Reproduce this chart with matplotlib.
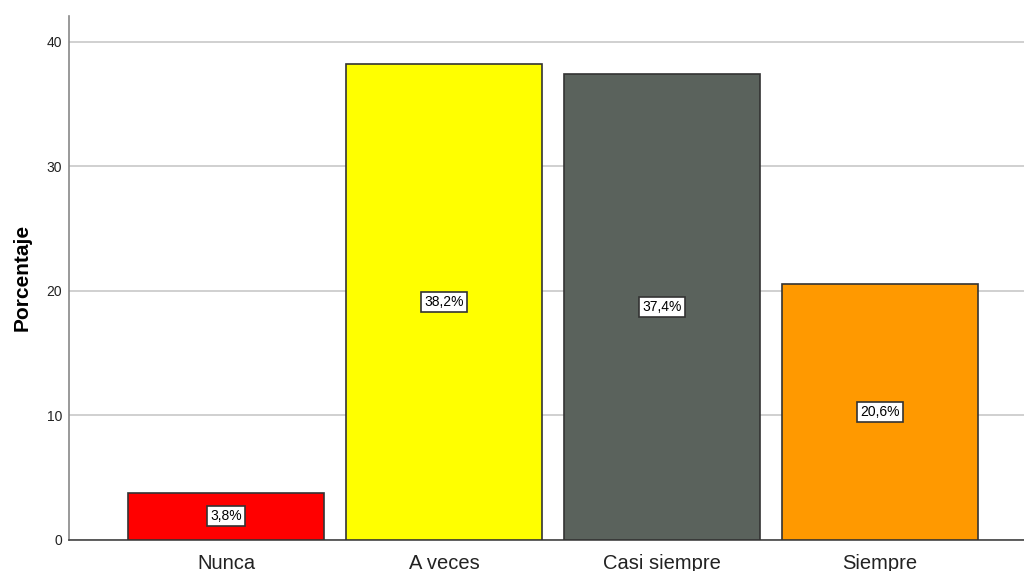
import matplotlib
matplotlib.use("Agg")
import matplotlib.pyplot as plt

# data
categorias = ["Nunca", "A veces", "Casi siempre", "Siempre"]
porcentajes = [3.8, 38.2, 37.4, 20.6]
etiquetas = ["3,8%", "38,2%", "37,4%", "20,6%"]
colores = ["#FF0000", "#FFFF00", "#5A625C", "#FF9900"]
yticks = [0, 10, 20, 30, 40]

plt.rcParams['font.family'] = ['Liberation Sans', 'DejaVu Sans']

fig = plt.figure(figsize=(10.24, 5.71), dpi=100)
ax = fig.add_axes([0.0674, 0.0543, 0.9326, 0.918])

x = range(len(categorias))
ax.bar(x, porcentajes, width=0.9, color=colores, edgecolor="#333333", linewidth=1.2, zorder=3)

# value labels in the middle of each bar
for i, (v, t) in enumerate(zip(porcentajes, etiquetas)):
    ax.text(i, v / 2, t, ha="center", va="center", fontsize=10, color="black", zorder=4,
            bbox=dict(boxstyle="square,pad=0.22", facecolor="white", edgecolor="#333333", linewidth=1.2))

ax.set_xlim(-0.72, 3.66)
ax.set_ylim(0, 42.1)
ax.set_yticks(yticks)
ax.set_xticks(list(x))
ax.set_xticklabels(categorias, fontsize=14.5, color="#222222")
ax.tick_params(axis="y", length=0, labelsize=10, pad=5, labelcolor="#222222")
ax.tick_params(axis="x", length=0, pad=10)
ax.yaxis.grid(True, color="#C8C8C8", linewidth=1.2, zorder=0)

ax.set_ylabel("Porcentaje", fontsize=15, fontweight="bold", labelpad=11)

for s in ["top", "right"]:
    ax.spines[s].set_visible(False)
ax.spines["left"].set_color("#888888")
ax.spines["left"].set_linewidth(1.2)
ax.spines["bottom"].set_color("#444444")
ax.spines["bottom"].set_linewidth(1.2)

fig.savefig("out.png", dpi=100)
